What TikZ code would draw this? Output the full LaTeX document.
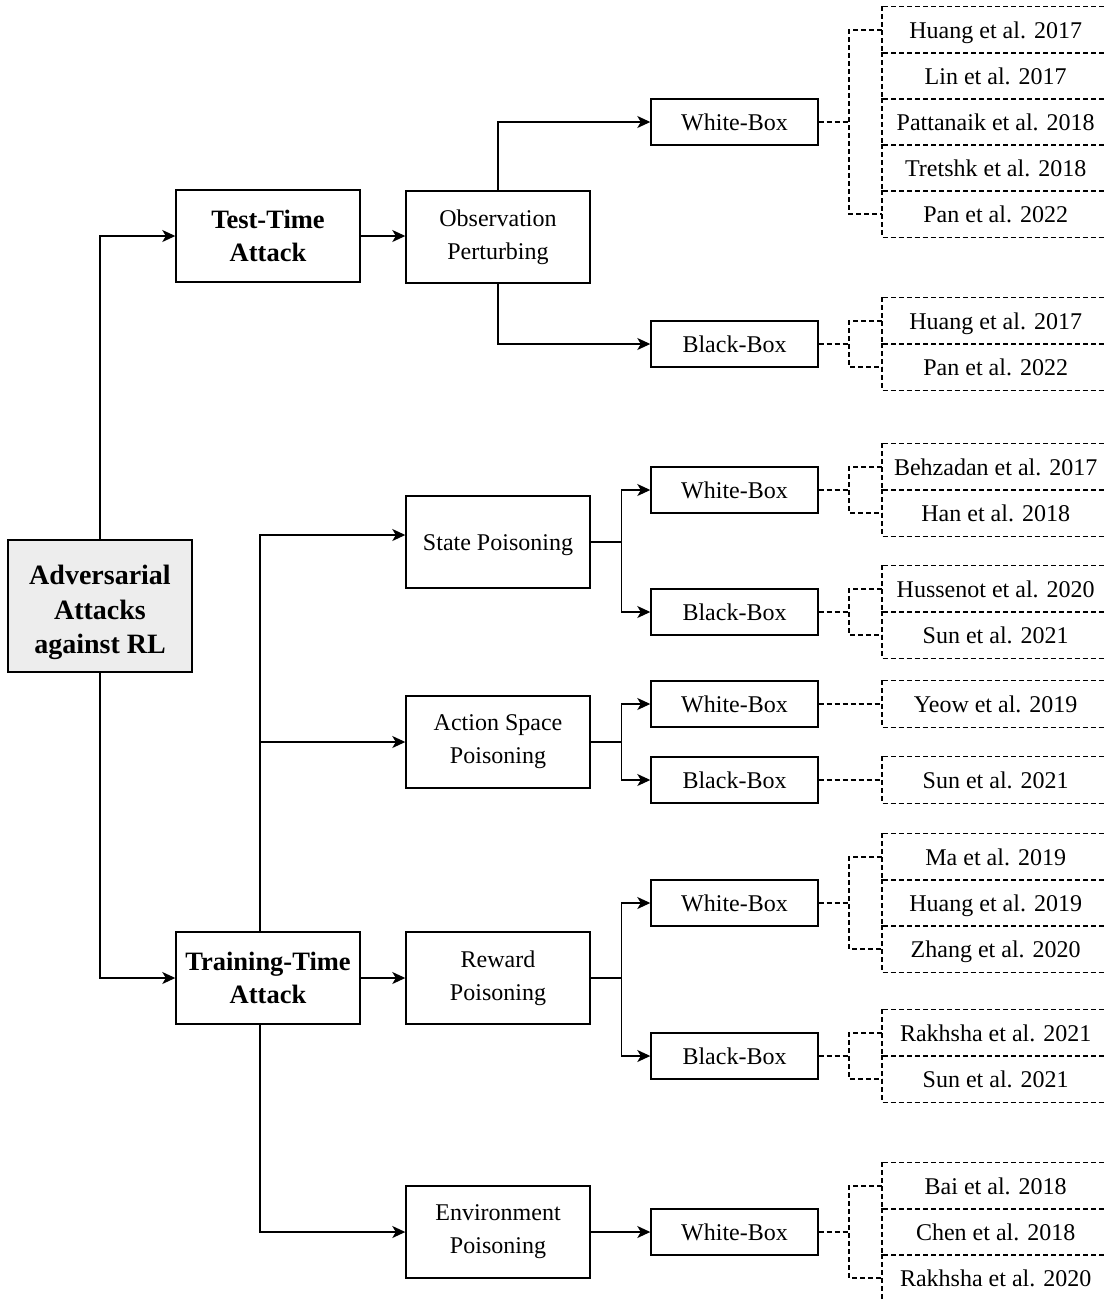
\documentclass[tikz,border=0pt]{standalone}
\usepackage{fontspec}
\setmainfont{Liberation Serif}
\usetikzlibrary{arrows.meta,calc}
\begin{document}
\begin{tikzpicture}[x=1pt,y=-1pt,
  line width=1.4pt,
  every node/.style={inner sep=0pt, align=center},
  mainbox/.style={draw, minimum width=184pt, minimum height=92pt,
    font=\fontsize{24}{33}\selectfont},
  headbox/.style={mainbox, font=\fontsize{26.5}{33}\selectfont\bfseries},
  rootbox/.style={draw, fill=black!7, minimum width=184pt, minimum height=132pt,
    font=\fontsize{28}{34.5}\selectfont\bfseries},
  leafbox/.style={draw, minimum width=167pt, minimum height=46pt,
    text height=16.4pt, text depth=0pt, font=\fontsize{24}{29}\selectfont},
  refbox/.style={minimum width=226pt, minimum height=46pt, anchor=west,
    text height=16.4pt, text depth=0pt, font=\fontsize{24}{29}\selectfont},
  link/.style={-{Stealth[length=13pt,width=12pt,inset=3.5pt]}},
  cite/.style={line width=1.2pt, dash pattern=on 5pt off 3pt}
]
\useasboundingbox (0,0) rectangle (1104,1299);

% root and the two attack phases
\node[rootbox] (root) at (100,606) {\rule{0pt}{33pt}Adversarial\\Attacks\\against RL};
\node[headbox] (test) at (268,236) {Test-Time\\Attack};
\node[headbox] (train) at (268,978) {Training-Time\\Attack};

% attack surfaces
\node[mainbox] (obs) at (498,237) {Observation\\Perturbing};
\node[mainbox, text height=16.4pt, text depth=0pt] (state) at (498,542) {State Poisoning};
\node[mainbox] (act) at (498,742) {Action Space\\Poisoning};
\node[mainbox] (rew) at (498,978) {Reward\\Poisoning};
\node[mainbox] (env) at (498,1232) {Environment\\Poisoning};

% adversary knowledge
\node[leafbox] (owb) at (734.5,122) {White-Box};
\node[leafbox] (obb) at (734.5,344) {Black-Box};
\node[leafbox] (swb) at (734.5,490) {White-Box};
\node[leafbox] (sbb) at (734.5,612) {Black-Box};
\node[leafbox] (awb) at (734.5,704) {White-Box};
\node[leafbox] (abb) at (734.5,780) {Black-Box};
\node[leafbox] (rwb) at (734.5,903) {White-Box};
\node[leafbox] (rbb) at (734.5,1056) {Black-Box};
\node[leafbox] (ewb) at (734.5,1232) {White-Box};

% references
\node[refbox] (o1) at (882,30) {Huang et al. 2017};
\node[refbox] (o2) at (882,76) {Lin et al. 2017};
\node[refbox] (o3) at (882,122) {Pattanaik et al. 2018};
\node[refbox] (o4) at (882,168) {Tretshk et al. 2018};
\node[refbox] (o5) at (882,214) {Pan et al. 2022};
\node[refbox] (p1) at (882,321) {Huang et al. 2017};
\node[refbox] (p2) at (882,367) {Pan et al. 2022};
\node[refbox] (s1) at (882,467) {Behzadan et al. 2017};
\node[refbox] (s2) at (882,513) {Han et al. 2018};
\node[refbox] (t1) at (882,589) {Hussenot et al. 2020};
\node[refbox] (t2) at (882,635) {Sun et al. 2021};
\node[refbox] (a1) at (882,704) {Yeow et al. 2019};
\node[refbox] (b1) at (882,780) {Sun et al. 2021};
\node[refbox] (r1) at (882,857) {Ma et al. 2019};
\node[refbox] (r2) at (882,903) {Huang et al. 2019};
\node[refbox] (r3) at (882,949) {Zhang et al. 2020};
\node[refbox] (q1) at (882,1033) {Rakhsha et al. 2021};
\node[refbox] (q2) at (882,1079) {Sun et al. 2021};
\node[refbox] (e1) at (882,1186) {Bai et al. 2018};
\node[refbox] (e2) at (882,1232) {Chen et al. 2018};
\node[refbox] (e3) at (882,1278) {Rakhsha et al. 2020};

% dashed frames of the references, running past the right margin
\foreach \n in {o1,o2,o3,o4,o5,p1,p2,s1,s2,t1,t2,a1,b1,r1,r2,r3,q1,q2,e1,e2,e3}
  \draw[cite] (\n.north west) rectangle ($(\n.south east)+(20,0)$);

% tree connectors
\draw[link] (root.north) |- (test.west);
\draw[link] (root.south) |- (train.west);
\draw[link] (test.east) -- (test.east -| obs.west);
\draw[link] (obs.north) |- (owb.west);
\draw[link] (obs.south) |- (obb.west);

\coordinate (up) at ($(train.north)+(-8,0)$);
\coordinate (down) at ($(train.south)+(-8,0)$);
\draw[link] (up) |- ($(state.west)+(0,-7)$);
\draw[link] (up) |- (act.west);
\draw[link] (down) |- (env.west);
\draw[link] (train.east) -- (rew.west);

\draw (state.east) -- ++(31,0) coordinate (sj);
\draw[link] (sj) |- (swb.west);
\draw[link] (sj) |- (sbb.west);
\draw (act.east) -- ++(31,0) coordinate (aj);
\draw[link] (aj) |- (awb.west);
\draw[link] (aj) |- (abb.west);
\draw (rew.east) -- ++(31,0) coordinate (rj);
\draw[link] (rj) |- (rwb.west);
\draw[link] (rj) |- (rbb.west);
\draw[link] (env.east) -- (ewb.west);

% dashed brackets to the references
\draw[cite] (owb.east) -- ++(31,0);
\draw[cite] (o1.west) -- ++(-33,0) |- (o5.west);
\draw[cite] (obb.east) -- ++(31,0);
\draw[cite] (p1.west) -- ++(-33,0) |- (p2.west);
\draw[cite] (swb.east) -- ++(31,0);
\draw[cite] (s1.west) -- ++(-33,0) |- (s2.west);
\draw[cite] (sbb.east) -- ++(31,0);
\draw[cite] (t1.west) -- ++(-33,0) |- (t2.west);
\draw[cite] (awb.east) -- (a1.west);
\draw[cite] (abb.east) -- (b1.west);
\draw[cite] (rwb.east) -- ++(31,0);
\draw[cite] (r1.west) -- ++(-33,0) |- (r3.west);
\draw[cite] (rbb.east) -- ++(31,0);
\draw[cite] (q1.west) -- ++(-33,0) |- (q2.west);
\draw[cite] (ewb.east) -- ++(31,0);
\draw[cite] (e1.west) -- ++(-33,0) |- (e3.west);
\end{tikzpicture}
\end{document}
